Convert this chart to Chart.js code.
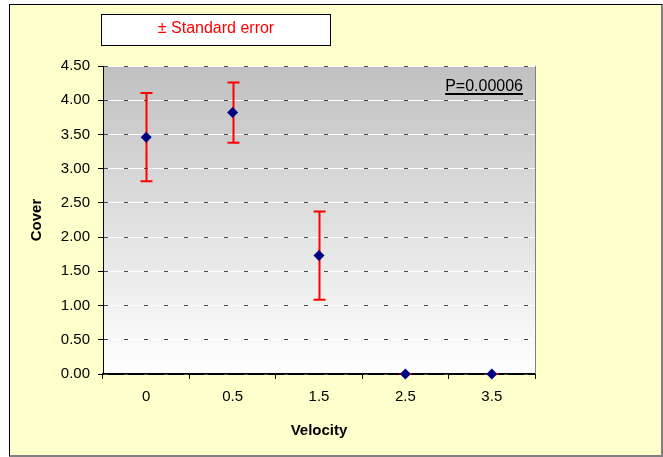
<!DOCTYPE html>
<html>
<head>
<meta charset="utf-8">
<script src="https://cdn.jsdelivr.net/npm/chart.js@4/dist/chart.umd.min.js"></script>
<style>
  html, body { margin: 0; padding: 0; background: #fff; }
  .frame {
    position: absolute; left: 9px; top: 4px; width: 651px; height: 450px;
    background: #ffffcc;
    border-left: 1px solid #000; border-top: 1px solid #000;
    border-right: 2px solid #808080; border-bottom: 2px solid #808080;
  }
  .chart { position: absolute; left: 0; top: 0; width: 663px; height: 457px; }
</style>
</head>
<body>
<div class="frame"></div>
<div class="chart"><canvas id="c" width="663" height="457"></canvas></div>
<script>
// data
const velocity = ['0', '0.5', '1.5', '2.5', '3.5'];
const cover = [3.46, 3.82, 1.73, 0, 0];
const stdErr = [0.645, 0.44, 0.645, 0, 0];
const yTicks = { min: 0, max: 4.5, step: 0.5 };
const legendText = '\u00B1 Standard error';
const pText = 'P=0.00006';

const FONT = "'Liberation Sans', Arial, sans-serif";

const plotDecor = {
  id: 'plotDecor',
  beforeDraw(chart) {
    const { ctx, chartArea: a } = chart;
    const g = ctx.createLinearGradient(0, a.top, 0, a.bottom);
    g.addColorStop(0, '#c0c0c0');
    g.addColorStop(1, '#ffffff');
    ctx.save();
    ctx.fillStyle = g;
    ctx.fillRect(a.left, a.top, a.right - a.left, a.bottom - a.top);
    ctx.restore();
  },
  beforeDatasetsDraw(chart) {
    // error bars, drawn under the points
    const { ctx } = chart;
    const xs = chart.scales.x, ys = chart.scales.y;
    ctx.save();
    ctx.strokeStyle = '#ff0000';
    ctx.lineWidth = 2;
    cover.forEach((v, i) => {
      const x = Math.round(xs.getPixelForValue(i)) + 0.5;
      const top = ys.getPixelForValue(v + stdErr[i]);
      const bot = ys.getPixelForValue(v - stdErr[i]);
      ctx.beginPath();
      ctx.moveTo(x, top); ctx.lineTo(x, bot);
      ctx.moveTo(x - 6, top); ctx.lineTo(x + 6, top);
      ctx.moveTo(x - 6, bot); ctx.lineTo(x + 6, bot);
      ctx.stroke();
    });
    ctx.restore();
  },
  afterDraw(chart) {
    const { ctx, chartArea: a } = chart;
    ctx.save();
    // right edge of the plot area
    ctx.strokeStyle = '#808080';
    ctx.lineWidth = 1;
    ctx.beginPath();
    ctx.moveTo(a.right + 0.5, a.top);
    ctx.lineTo(a.right + 0.5, a.bottom);
    ctx.stroke();

    // legend box
    ctx.fillStyle = '#fff';
    ctx.fillRect(101, 14, 229, 31);
    ctx.strokeStyle = '#000';
    ctx.lineWidth = 1;
    ctx.strokeRect(101.5, 14.5, 229, 31);
    ctx.fillStyle = '#ff0000';
    ctx.font = '16px ' + FONT;
    ctx.textAlign = 'center';
    ctx.textBaseline = 'middle';
    ctx.fillText(legendText, 216, 29);

    // P value, underlined
    ctx.fillStyle = '#000';
    ctx.font = '16px ' + FONT;
    ctx.textAlign = 'right';
    ctx.textBaseline = 'alphabetic';
    const px = a.right - 12, py = a.top + 25;
    ctx.fillText(pText, px, py);
    const w = ctx.measureText(pText).width;
    ctx.fillRect(px - w, py + 2, w, 2);
    ctx.restore();
  }
};

new Chart(document.getElementById('c'), {
  type: 'line',
  data: {
    labels: velocity,
    datasets: [{
      data: cover,
      showLine: false,
      pointStyle: 'rectRot',
      pointRadius: 5.5,
      pointHoverRadius: 5.5,
      backgroundColor: '#000080',
      borderColor: '#000080',
      borderWidth: 0,
      clip: false
    }]
  },
  options: {
    responsive: false,
    animation: false,
    layout: { padding: { top: 66, right: 128, left: 0, bottom: 0 } },
    plugins: { legend: { display: false }, tooltip: { enabled: false } },
    scales: {
      x: {
        offset: true,
        grid: { offset: true, drawOnChartArea: false, tickLength: 5, color: '#000' },
        border: { color: '#000', width: 2 },
        ticks: { color: '#000', font: { family: FONT, size: 15 }, padding: 9 },
        title: {
          display: true, text: 'Velocity', color: '#000',
          font: { family: FONT, size: 15, weight: 'bold' },
          padding: { top: 0, bottom: 17 }
        },
        afterFit(s) { s.height = 83; }
      },
      y: {
        min: yTicks.min, max: yTicks.max,
        grid: { color: '#4a4a4a', tickColor: '#000', tickLength: 5, tickBorderDash: [], z: 0 },
        border: { color: '#000', width: 1, dash: [4, 16], z: 1 },
        ticks: {
          stepSize: yTicks.step, color: '#000', padding: 8,
          font: { family: FONT, size: 15 },
          callback: v => Number(v).toFixed(2)
        },
        title: {
          display: true, text: 'Cover', color: '#000',
          font: { family: FONT, size: 15, weight: 'bold' },
          padding: { top: 28, bottom: 0 }
        },
        afterFit(s) { s.width = 103; }
      },
      y2: {
        position: 'right',
        min: yTicks.min, max: yTicks.max,
        ticks: { display: false, stepSize: yTicks.step },
        grid: { color: '#ffffff', drawTicks: false, z: -1 },
        border: { display: false },
        afterFit(s) { s.width = 0; }
      }
    }
  },
  plugins: [plotDecor]
});
</script>
</body>
</html>
